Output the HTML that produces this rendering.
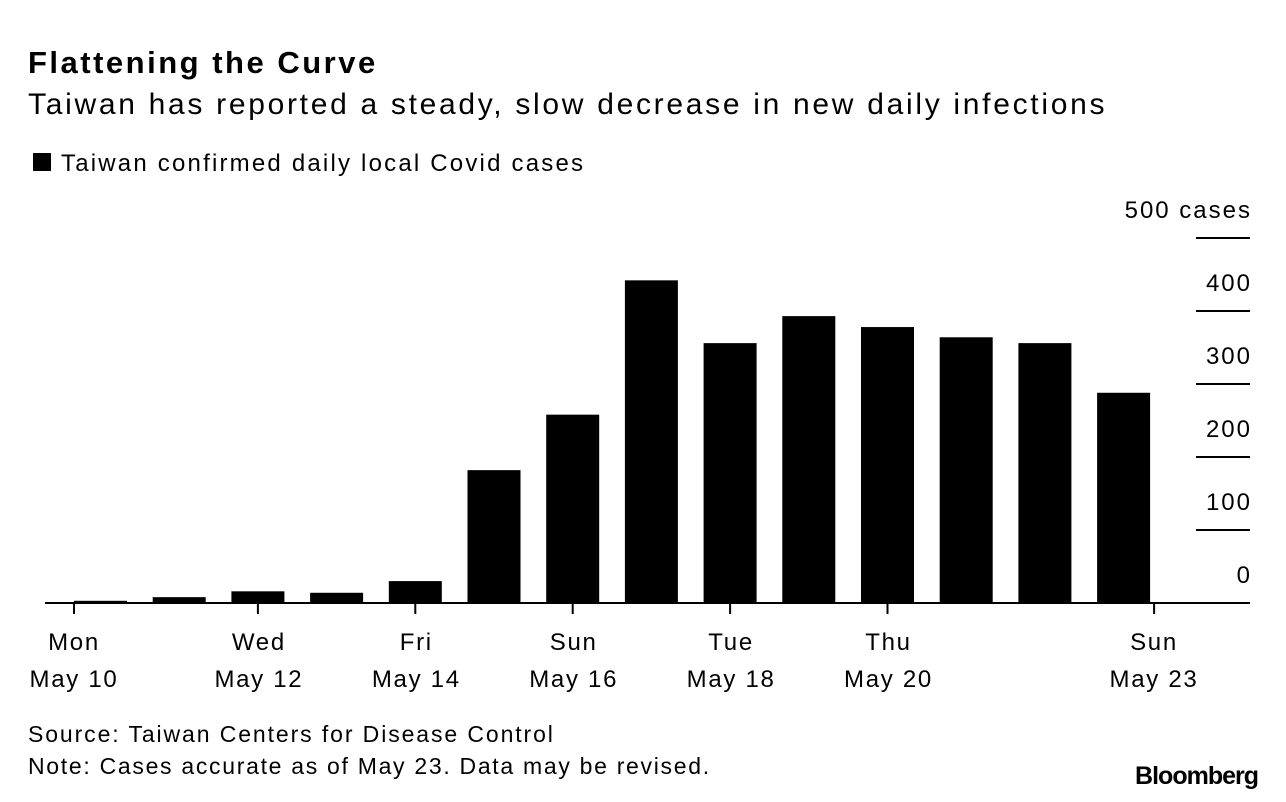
<!DOCTYPE html>
<html><head><meta charset="utf-8"><style>
body{margin:0;background:#fff;font-family:"Liberation Sans",Arial,sans-serif;}
svg{display:block}
</style></head><body>
<svg width="1286" height="802" id="c">
<text x="28" y="73" font-size="31" font-weight="bold" letter-spacing="2.5" fill="#000">Flattening the Curve</text>
<text x="28" y="114" font-size="30" letter-spacing="2.7" fill="#000">Taiwan has reported a steady, slow decrease in new daily infections</text>
<rect x="33" y="153" width="18" height="18" fill="#000"/>
<text x="61" y="171" font-size="24" letter-spacing="2.2" fill="#000">Taiwan confirmed daily local Covid cases</text>
<text x="28" y="742" font-size="23" letter-spacing="1.9" fill="#000">Source: Taiwan Centers for Disease Control</text>
<text x="28" y="774" font-size="23" letter-spacing="1.7" fill="#000">Note: Cases accurate as of May 23. Data may be revised.</text>
<text x="1258" y="784" font-size="25" font-weight="bold" text-anchor="end" letter-spacing="-1" fill="#000">Bloomberg</text>
<g id="plot"></g>
</svg>
<script>
const days=["May 10","May 11","May 12","May 13","May 14","May 15","May 16","May 17","May 18","May 19","May 20","May 21","May 22","May 23"];
const cases=[3,8,16,14,30,182,258,442,356,393,378,364,356,288];
const yTicks=[0,100,200,300,400,500];
const yTickLabels=["0","100","200","300","400","500 cases"];
const xLabelIdx=[0,2,4,6,8,10,13];
const xLabelTop=["Mon","Wed","Fri","Sun","Tue","Thu","Sun"];
const xLabelBottom=["May 10","May 12","May 14","May 16","May 18","May 20","May 23"];

const NS="http://www.w3.org/2000/svg";
const g=document.getElementById('plot');
const base=603, pxPer=0.73, x0=74, pitch=78.7, bw=53;
const y=v=>base-v*pxPer;
const xl=i=>x0+i*pitch;
function mk(t,a){const e=document.createElementNS(NS,t);for(const k in a)e.setAttribute(k,a[k]);g.appendChild(e);return e;}
yTicks.forEach((v,i)=>{
  if(v>0){const l=mk('line',{x1:1196,x2:1250,y1:y(v),y2:y(v),stroke:'#000','stroke-width':2});
  
  }
  const t=mk('text',{x:1252,y:y(v)-20,'font-size':24,'letter-spacing':2,'text-anchor':'end',fill:'#000'});
  t.textContent=yTickLabels[i];
  
  
});
cases.forEach((v,i)=>{
  const r=mk('rect',{x:xl(i),y:y(v),width:bw,height:base-y(v),fill:'#000'});
  
  
});
const ax=mk('line',{x1:45,x2:1250,y1:base,y2:base,stroke:'#000','stroke-width':2});


xLabelIdx.forEach((d,k)=>{
  let tx=xl(d)+bw/2;
  if(k===0)tx=xl(d);
  if(k===xLabelIdx.length-1)tx=xl(d)+bw+4;
  const tk=mk('line',{x1:tx,x2:tx,y1:base,y2:base+11,stroke:'#000','stroke-width':2});
  
  
  let lx=xl(d)+bw/2;
  if(k===0)lx=73;
  if(k===xLabelIdx.length-1)lx=1153;
  const t1=mk('text',{x:lx+1,y:650,'font-size':24,'letter-spacing':1.7,'text-anchor':'middle',fill:'#000'});
  t1.textContent=xLabelTop[k];
  
  
  const t2=mk('text',{x:lx+1,y:687,'font-size':24,'letter-spacing':1.7,'text-anchor':'middle',fill:'#000'});
  t2.textContent=xLabelBottom[k];
  
  
});
</script>
</body></html>
